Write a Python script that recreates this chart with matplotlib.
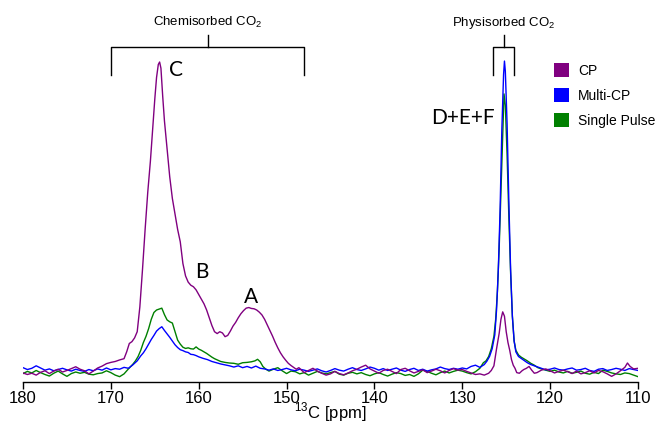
import matplotlib
matplotlib.use("Agg")
import matplotlib.pyplot as plt
from matplotlib.patches import Patch

# data, intensity scaled so CP peak C = 100
# ------------------------------------------------------------------------------------------------------------------
cp_ppm = [180.0, 179.5, 179.0, 178.5, 178.0, 177.5, 177.0, 176.5, 176.0, 175.5, 175.0, 174.5, 174.0, 173.5,
          173.0, 172.5, 172.0, 171.5, 171.0, 170.5, 170.0, 169.5, 169.0, 168.5, 168.2, 167.9, 167.6, 167.3,
          167.0, 166.7, 166.4, 166.1, 165.8, 165.5, 165.2, 165.0, 164.8, 164.6, 164.45, 164.3, 164.1, 163.9,
          163.6, 163.3, 163.0, 162.7, 162.4, 162.1, 161.8, 161.5, 161.2, 160.9, 160.6, 160.3, 160.0, 159.7,
          159.4, 159.1, 158.8, 158.5, 158.2, 157.9, 157.6, 157.3, 157.0, 156.7, 156.4, 156.1, 155.8, 155.5,
          155.2, 154.9, 154.6, 154.3, 154.0, 153.7, 153.4, 153.1, 152.8, 152.5, 152.2, 151.9, 151.6, 151.3,
          151.0, 150.7, 150.4, 150.1, 149.8, 149.5, 149.2, 148.9, 148.6, 148.3, 148.0, 147.5, 147.0, 146.5,
          146.0, 145.5, 145.0, 144.5, 144.0, 143.5, 143.0, 142.5, 142.0, 141.5, 141.0, 140.5, 140.0, 139.5,
          139.0, 138.5, 138.0, 137.5, 137.0, 136.5, 136.0, 135.5, 135.0, 134.5, 134.0, 133.5, 133.0, 132.5,
          132.0, 131.5, 131.0, 130.5, 130.0, 129.5, 129.0, 128.5, 128.0, 127.5, 127.0, 126.7, 126.4, 126.1,
          125.8, 125.6, 125.4, 125.2, 125.0, 124.8, 124.6, 124.4, 124.2, 124.0, 123.8, 123.5, 123.2, 123.0,
          122.7, 122.4, 122.1, 121.8, 121.5, 121.0, 120.5, 120.0, 119.5, 119.0, 118.5, 118.0, 117.5, 117.0,
          116.5, 116.0, 115.5, 115.0, 114.5, 114.0, 113.5, 113.0, 112.5, 112.0, 111.5, 111.2, 110.9, 110.5,
          110.0]
cp_int = [-0.3, -0.8, -0.4, -1.0, -0.1, 0.4, -0.5, 0.3, 0.9, 0.0, 0.5, 1.1, 1.7, 0.9,
          0.4, -0.6, 0.3, 1.3, 1.9, 2.7, 3.1, 3.4, 3.9, 4.3, 6.5, 9.2, 9.8, 11.0,
          13.0, 21, 33, 46, 58, 68, 80, 88, 95, 99.2, 100, 98, 89, 81,
          72, 63, 56, 51, 46, 42, 35, 31, 29, 28, 27.5, 26.5, 25, 23.5,
          22, 20, 17.5, 15, 13, 12.4, 13.0, 12.6, 11.4, 11.8, 13.2, 14.8, 16.0, 17.5,
          18.8, 19.8, 20.6, 20.8, 20.5, 20.4, 20.0, 19.3, 18.4, 17.0, 15.2, 13.4, 11.6, 9.6,
          7.8, 6.2, 4.9, 3.8, 2.8, 2.1, 1.5, 0.9, 1.4, 0.6, -0.2, 0.5, 1.2, 0.3,
          -0.4, -1.0, -0.6, 0.2, -0.5, -0.9, -0.3, 0.4, 0.9, 1.6, 2.2, 1.0, 0.3, -0.4,
          0.5, 0.9, 0.2, -0.5, 0.8, 1.2, 0.4, -0.3, 0.2, 0.7, -0.2, 0.3, 0.9, 0.4,
          -0.3, 0.5, 1.1, 0.6, 0.8, 0.2, -0.3, -0.8, -0.6, -1.0, -0.4, 0.5, 2.0, 7.5,
          12.5, 17.0, 19.4, 18.0, 13.0, 9.5, 7.0, 4.0, 2.2, 1.2, -0.2, -0.4, 0.4, 0.8,
          1.2, 1.8, 0.6, -0.4, -0.2, 0.6, 1.0, 0.4, -0.3, 0.2, 0.6, 0.1, -0.5, 0.3,
          -0.6, -0.2, 0.4, -0.3, 0.5, 0.1, -0.6, -1.4, -0.6, 0.4, 1.5, 2.9, 1.8, 1.0,
          1.2]

mcp_ppm = [180.0, 179.5, 179.0, 178.5, 178.0, 177.5, 177.0, 176.5, 176.0, 175.5, 175.0, 174.5, 174.0, 173.5,
           173.0, 172.5, 172.0, 171.5, 171.0, 170.5, 170.0, 169.5, 169.0, 168.5, 168.0, 167.5, 167.0, 166.6,
           166.3, 166.0, 165.7, 165.4, 165.1, 164.8, 164.5, 164.2, 163.9, 163.6, 163.3, 163.0, 162.7, 162.4,
           162.1, 161.8, 161.5, 161.2, 160.9, 160.6, 160.3, 160.0, 159.5, 159.0, 158.5, 158.0, 157.5, 157.0,
           156.5, 156.0, 155.5, 155.0, 154.5, 154.0, 153.5, 153.0, 152.5, 152.0, 151.5, 151.0, 150.5, 150.0,
           149.5, 149.0, 148.5, 148.0, 147.5, 147.0, 146.5, 146.0, 145.5, 145.0, 144.5, 144.0, 143.5, 143.0,
           142.5, 142.0, 141.5, 141.0, 140.5, 140.0, 139.5, 139.0, 138.5, 138.0, 137.5, 137.0, 136.5, 136.0,
           135.5, 135.0, 134.5, 134.0, 133.5, 133.0, 132.5, 132.0, 131.5, 131.0, 130.5, 130.0, 129.5, 129.0,
           128.5, 128.0, 127.5, 127.2, 126.9, 126.6, 126.3, 126.1, 125.9, 125.7, 125.5, 125.3, 125.2, 125.1,
           124.9, 124.7, 124.5, 124.3, 124.1, 123.9, 123.6, 123.3, 123.0, 122.6, 122.2, 121.8, 121.4, 121.0,
           120.5, 120.0, 119.5, 119.0, 118.5, 118.0, 117.5, 117.0, 116.5, 116.0, 115.5, 115.0, 114.5, 114.0,
           113.5, 113.0, 112.5, 112.0, 111.5, 111.0, 110.5, 110.0]
mcp_int = [1.4, 0.8, 1.2, 2.0, 1.3, 0.6, 1.0, 0.4, 0.8, 1.2, 0.7, 0.3, 0.9, 0.5,
           0.2, 0.8, 0.4, 1.0, 0.6, 1.3, 0.7, 1.1, 0.9, 1.5, 1.2, 2.3, 3.6, 5.2,
           6.2, 7.5, 9.0, 10.5, 11.8, 13.2, 14.0, 14.6, 13.4, 12.3, 11.2, 10.0, 8.8, 7.9,
           7.2, 6.9, 6.5, 6.3, 5.7, 5.6, 5.3, 4.9, 4.4, 4.0, 3.4, 3.0, 2.6, 2.3,
           2.0, 1.6, 2.0, 1.4, 1.8, 1.3, 1.9, 1.2, 1.0, 0.6, 1.0, 0.5, 0.8, 1.2,
           0.7, 0.4, 0.9, 0.6, 0.2, 0.6, 1.0, 0.4, 0.0, 0.5, 1.1, 0.6, 0.3, 0.9,
           1.4, 0.8, 0.5, 1.0, 1.6, 1.2, 0.6, 1.1, 0.5, 0.9, 1.3, 0.6, 0.2, 0.8,
           1.2, 0.5, 0.9, 0.3, 0.7, 1.0, 1.6, 1.1, 0.8, 1.2, 0.9, 1.3, 1.0, 1.8,
           2.2, 1.5, 2.4, 3.5, 5.0, 7.5, 12.0, 20.0, 33.0, 52.0, 78.0, 96.0, 100.3, 97.0,
           80.0, 55.0, 33.0, 18.0, 10.0, 6.5, 5.0, 4.4, 3.8, 3.0, 2.4, 2.0, 1.6, 1.2,
           0.7, 0.9, 1.3, 0.8, 0.6, 1.0, 1.3, 0.6, 0.8, 1.2, 0.5, 0.2, 0.9, 1.1,
           0.5, 0.8, 1.2, 0.9, 0.5, 1.1, 0.8, 0.5]

sp_ppm = [180.0, 179.5, 179.0, 178.5, 178.0, 177.5, 177.0, 176.5, 176.0, 175.5, 175.0, 174.5, 174.0, 173.5,
          173.0, 172.5, 172.0, 171.5, 171.0, 170.5, 170.0, 169.5, 169.0, 168.5, 168.0, 167.5, 167.2, 166.9,
          166.6, 166.3, 166.0, 165.7, 165.4, 165.1, 164.8, 164.5, 164.2, 163.9, 163.6, 163.3, 163.0, 162.7,
          162.4, 162.1, 161.8, 161.5, 161.2, 160.9, 160.6, 160.3, 160.0, 159.7, 159.4, 159.1, 158.8, 158.5,
          158.2, 157.9, 157.5, 157.0, 156.5, 156.0, 155.5, 155.0, 154.5, 154.0, 153.6, 153.3, 153.0, 152.7,
          152.4, 152.0, 151.5, 151.0, 150.5, 150.0, 149.5, 149.0, 148.5, 148.0, 147.5, 147.0, 146.5, 146.0,
          145.5, 145.0, 144.5, 144.0, 143.5, 143.0, 142.5, 142.0, 141.5, 141.0, 140.5, 140.0, 139.5, 139.0,
          138.5, 138.0, 137.5, 137.0, 136.5, 136.0, 135.5, 135.0, 134.5, 134.0, 133.5, 133.0, 132.5, 132.0,
          131.5, 131.0, 130.5, 130.0, 129.5, 129.0, 128.5, 128.0, 127.6, 127.3, 127.0, 126.7, 126.4, 126.2,
          126.0, 125.8, 125.6, 125.4, 125.25, 125.1, 124.9, 124.7, 124.5, 124.3, 124.1, 123.9, 123.6, 123.3,
          123.0, 122.6, 122.2, 121.8, 121.4, 121.0, 120.5, 120.0, 119.5, 119.0, 118.5, 118.0, 117.5, 117.0,
          116.5, 116.0, 115.5, 115.0, 114.5, 114.0, 113.5, 113.0, 112.5, 112.0, 111.5, 111.0, 110.5, 110.0]
sp_int = [-0.5, 0.2, -0.3, 0.5, -0.2, -0.8, -1.3, -0.4, 0.3, -0.6, -1.4, -0.5, 0.0, -0.4,
          -0.1, -0.7, -0.9, -0.5, -0.3, 0.4, -0.2, -1.0, -1.5, -0.6, 1.0, 2.5, 3.6, 5.0,
          7.0, 9.5, 11.5, 14.0, 17.0, 19.2, 20.0, 20.3, 20.6, 18.5, 16.8, 16.2, 15.8, 13.0,
          10.3, 9.0, 8.0, 7.6, 7.8, 7.5, 7.4, 8.1, 7.4, 7.0, 6.5, 6.0, 5.4, 4.8,
          4.3, 3.9, 3.4, 3.1, 2.9, 2.8, 2.5, 3.0, 3.1, 3.3, 3.6, 4.1, 3.3, 1.8,
          1.0, 0.3, 0.9, 1.4, 0.4, -0.5, 0.3, 0.1, -0.6, -0.2, -1.0, -0.4, 0.2, -0.3,
          -0.6, -0.2, 0.2, -0.7, -1.0, -0.4, -0.1, -0.6, -0.2, -0.8, -1.2, -0.6, -0.2, -0.8,
          -1.3, -0.7, -0.2, -0.5, -1.1, -0.8, -1.4, -0.6, 0.6, 0.2, -0.4, -0.9, -0.2, 0.3,
          -0.3, 0.2, 0.6, 0.3, -0.2, -0.6, 0.1, 1.2, 3.0, 3.6, 5.0, 7.5, 11.5, 17.0,
          26.0, 40.0, 58.0, 77.0, 89.7, 86.0, 70.0, 50.0, 32.0, 18.0, 10.0, 7.0, 5.5, 4.8,
          4.3, 3.6, 2.8, 2.2, 1.4, 1.0, 0.6, 0.2, 0.6, 0.0, -0.3, 0.2, -0.4, -0.1,
          0.3, -0.4, -0.7, -0.1, -0.5, 0.6, 0.2, -0.3, -0.6, -0.8, -0.3, -0.5, -1.0, -1.5]

series_names = ['CP', 'Multi-CP', 'Single Pulse']
series_colors = ['#800080', '#0000FF', '#008000']

x_ticks = [180, 170, 160, 150, 140, 130, 120, 110]

# plot
# ------------------------------------------------------------------------------------------------------------------
plt.rcParams['font.family'] = ['Liberation Sans', 'DejaVu Sans']
plt.rcParams['mathtext.fontset'] = 'custom'
plt.rcParams['mathtext.rm'] = 'Liberation Sans'

fig = plt.figure(figsize=(6.55, 4.25), dpi=100)
ax = fig.add_axes([23 / 655, 1 - 381.5 / 425, 615 / 655, 381.5 / 425])

# green under, then blue, purple on top
ax.plot(sp_ppm, sp_int, color=series_colors[2], lw=1.0)
ax.plot(mcp_ppm, mcp_int, color=series_colors[1], lw=1.0)
ax.plot(cp_ppm, cp_int, color=series_colors[0], lw=1.0)

ax.set_xlim(180, 110)
ax.set_ylim(-3.06, 120)
ax.set_xticks(x_ticks)
ax.tick_params(axis='x', direction='out', length=5, width=1, labelsize=12, pad=2)
ax.set_yticks([])
for s in ['left', 'right', 'top']:
    ax.spines[s].set_visible(False)
ax.spines['bottom'].set_linewidth(1.0)
ax.set_xlabel('$^{13}$C [ppm]', fontsize=12, labelpad=-4)


def bracket(x1, x2, xc, label):
    kw = dict(color='black', lw=1.0, clip_on=False)
    ax.plot([x1, x1, x2, x2], [95.8, 104.7, 104.7, 95.8], **kw)
    ax.plot([xc, xc], [104.7, 108.7], **kw)
    ax.text(xc, 112.6, label, ha='center', va='center', fontsize=9.5)


bracket(170, 148, 159, 'Chemisorbed CO$_2$')
bracket(126.5, 124.1, 125.3, 'Physisorbed CO$_2$')

lab = dict(fontsize=15, family=['Lato', 'DejaVu Sans'], ha='center', va='center')
ax.text(162.6, 97.4, 'C', **lab)
ax.text(159.7, 32.4, 'B', **lab)
ax.text(154.1, 24.3, 'A', **lab)
ax.text(129.9, 81.8, 'D+E+F', **lab)

handles = [Patch(facecolor=c, edgecolor='none') for c in series_colors]
fig.legend(handles, series_names, loc='upper left', bbox_to_anchor=(553.5 / 655, 1 - 63 / 425),
           frameon=False, fontsize=10, handlelength=1.15, handleheight=1.15,
           handletextpad=0.6, labelspacing=0.75, borderpad=0, borderaxespad=0)

fig.savefig('out.png', dpi=100)
